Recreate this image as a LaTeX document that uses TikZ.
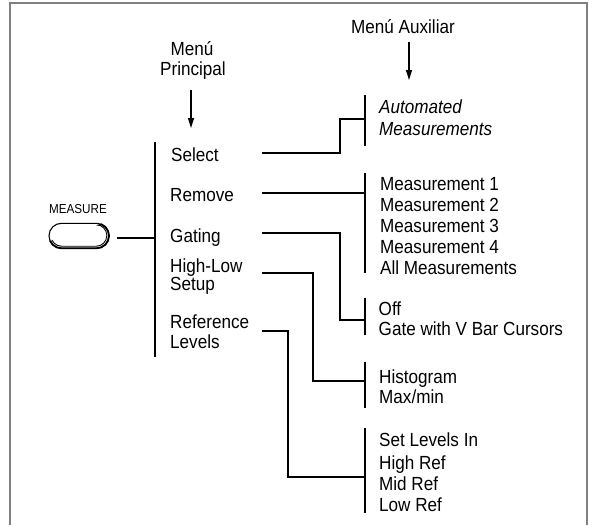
\documentclass[tikz,border=0pt]{standalone}
\usepackage{fontspec}
\usetikzlibrary{arrows.meta}
\newfontfamily\labfont[FakeStretch=0.9]{Liberation Sans}
\begin{document}
\begin{tikzpicture}[x=1pt,y=-1pt,
  lbl/.style={font=\labfont\fontsize{19}{21}\selectfont, inner sep=0pt, anchor=base west},
  hdr/.style={font=\labfont\fontsize{19}{21}\selectfont, inner sep=0pt, anchor=base},
  small/.style={font=\labfont\fontsize{13}{14}\selectfont, inner sep=0pt, anchor=base},
  wire/.style={line width=2pt, line join=miter},
  bar/.style={line width=2pt},
  frameline/.style={draw=black!50, line width=2pt},
  hdrarrow/.style={line width=1.3pt, -{Triangle[length=10pt,width=6pt]}},
  btnshape/.style={draw, line width=1.1pt, minimum width=60pt, minimum height=25pt, rounded corners=12.5pt, inner sep=0pt}]
\useasboundingbox (0,0) rectangle (589,525);
% frame
\draw[frameline] (9.5,525) -- (9.5,3.3) -- (586.5,3.3) -- (586.5,525);

% headers
\node[hdr] (auxhdr) at (403,33) {Menú Auxiliar};
\node[hdr] (menu1) at (192,55) {Menú};
\node[hdr] (menu2) at (193,75) {Principal};
\coordinate (auxA1) at (409,42); \coordinate (auxA2) at (409,80);
\coordinate (prA1) at (191,90); \coordinate (prA2) at (191,128);
\draw[hdrarrow] (auxA1) -- (auxA2);
\draw[hdrarrow] (prA1) -- (prA2);

% MEASURE button
\node[small] (mlabel) at (78,213.3) {MEASURE};
\node[btnshape] (btn) at (79,235.8) {};
\begin{scope}
  \clip (40,258) -- (40,244) -- (118,218) -- (118,258) -- cycle;
  \draw[line width=0.9pt, rounded corners=10.5pt] (51,224.8) rectangle (106.8,246.2);
  \draw[line width=1.8pt, rounded corners=12.5pt] (49,223.3) rectangle (109,248.3);
\end{scope}
\coordinate (btnOut) at (117,237.5);
\coordinate (mainIn) at (155,237.5);
\draw[wire] (btnOut) -- (mainIn);

% main menu bar
\coordinate (mainTop) at (155,142); \coordinate (mainBot) at (155,357);
\draw[bar] (mainTop) -- (mainBot);

% main menu labels
\node[lbl] (sel) at (171,161) {Select};
\node[lbl] (rem) at (170,201) {Remove};
\node[lbl] (gat) at (170,242) {Gating};
\node[lbl] (hl1) at (170,272) {High-Low};
\node[lbl] (hl2) at (170,290.5) {Setup};
\node[lbl] (ref1) at (170,328) {Reference};
\node[lbl] (ref2) at (170,348) {Levels};

% aux bars
\draw[bar] (365,95) coordinate (aux1t) -- (365,146) coordinate (aux1b);
\draw[bar] (365,173) coordinate (aux2t) -- (365,273) coordinate (aux2b);
\draw[bar] (365,298) coordinate (aux3t) -- (365,335) coordinate (aux3b);
\draw[bar] (365,362) coordinate (aux4t) -- (365,408) coordinate (aux4b);
\draw[bar] (365,428) coordinate (aux5t) -- (365,513) coordinate (aux5b);

% connectors
\coordinate (selOut) at (262,153);   \coordinate (aux1In) at (365,119);
\coordinate (remOut) at (262,193);   \coordinate (aux2In) at (365,193);
\coordinate (gatOut) at (262,233);   \coordinate (aux3In) at (365,320);
\coordinate (hlOut)  at (262,273);   \coordinate (aux4In) at (365,381);
\coordinate (refOut) at (262,331);   \coordinate (aux5In) at (365,477);
\draw[wire] (selOut) -- (340,153) |- (aux1In);
\draw[wire] (remOut) -- (aux2In);
\draw[wire] (gatOut) -- (340,233) |- (aux3In);
\draw[wire] (hlOut) -- (313,273) |- (aux4In);
\draw[wire] (refOut) -- (288,331) |- (aux5In);

% aux labels
\node[lbl, font=\labfont\itshape\fontsize{19}{21}\selectfont] (am1) at (379,113) {Automated};
\node[lbl, font=\labfont\itshape\fontsize{19}{21}\selectfont] (am2) at (379,135) {Measurements};

\node[lbl] (m1) at (380,190) {Measurement 1};
\node[lbl] (m2) at (380,211.5) {Measurement 2};
\node[lbl] (m3) at (380,232.5) {Measurement 3};
\node[lbl] (m4) at (380,253) {Measurement 4};
\node[lbl] (m5) at (380,274) {All Measurements};

\node[lbl] (g1) at (378.5,315) {Off};
\node[lbl] (g2) at (378.5,335) {Gate with V Bar Cursors};

\node[lbl] (h1) at (379,383) {Histogram};
\node[lbl] (h2) at (379,403) {Max/min};

\node[lbl] (r1) at (379,446) {Set Levels In};
\node[lbl] (r2) at (379,469) {High Ref};
\node[lbl] (r3) at (379,490) {Mid Ref};
\node[lbl] (r4) at (379,511) {Low Ref};
\end{tikzpicture}
\end{document}
